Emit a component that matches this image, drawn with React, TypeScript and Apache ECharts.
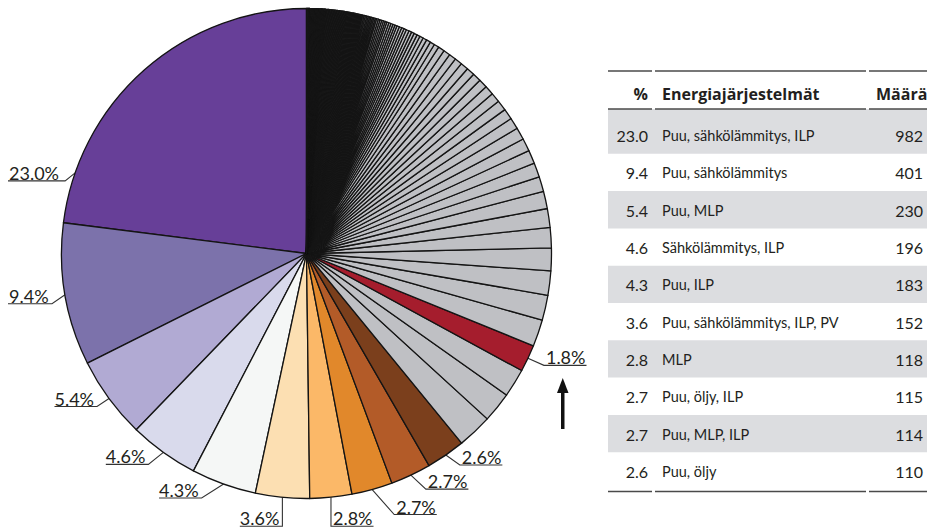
import React, { useEffect, useRef } from "react";
import * as echarts from "echarts";

// ---------- data ----------
const topNames = [
  "Puu, sähkölämmitys, ILP",
  "Puu, sähkölämmitys",
  "Puu, MLP",
  "Sähkölämmitys, ILP",
  "Puu, ILP",
  "Puu, sähkölämmitys, ILP, PV",
  "MLP",
  "Puu, öljy, ILP",
  "Puu, MLP, ILP",
  "Puu, öljy",
];
const topCounts = [982, 401, 230, 196, 183, 152, 118, 115, 114, 110];
const topPercents = ["23.0", "9.4", "5.4", "4.6", "4.3", "3.6", "2.8", "2.7", "2.7", "2.6"];

// other (grey) categories, sorted, before the highlighted one
const greyBeforeCounts = [98, 85, 80];
const highlightName = "Korostettu";
const highlightCount = 76;
const highlightPercent = "1.8";
// remaining grey categories (long tail)
const greyAfterCounts = [
  75, 71, 68, 64, 57, 53, 49, 42, 40,
  38, 36, 34, 32, 30, 29, 27, 26, 25, 24, 23, 22, 21, 20, 19, 18,
  14, 13, 12, 11, 10,
  9, 9, 8, 8, 8, 7, 7, 7, 7, 6, 6, 6, 6, 6, 5, 5, 5, 5, 5, 5,
  4, 4, 4, 4, 4, 4, 4, 4, 4, 4,
  3, 3, 3, 3, 3, 3, 3, 3, 3, 3, 3, 3, 3, 3, 3,
  2, 2, 2, 2, 2, 2, 2, 2, 2, 2, 2, 2, 2, 2, 2,
  2, 2, 2, 2, 2, 2, 2, 2, 2, 2, 2, 2, 2, 2, 2,
  1, 1, 1, 1, 1, 1, 1, 1, 1, 1, 1, 1, 1, 1, 1, 1, 1, 1, 1, 1, 1, 1, 1, 1, 1, 1,
  1, 1, 1, 1, 1, 1, 1, 1, 1, 1, 1, 1, 1, 1, 1, 1, 1, 1, 1, 1, 1, 1, 1, 1, 1, 1,
];

const tableHeader = ["%", "Energiajärjestelmät", "Määrä"];

// ---------- styles ----------
const topColors = [
  "#673f98", "#7c72ab", "#b1aad3", "#d9daec", "#f5f7f6",
  "#fcdfb2", "#fbb868", "#e1882b", "#b35b28", "#7b3f1c",
];
const greyColor = "#bfc0c4";
const highlightColor = "#a51d2d";
const FONT = "Lato, 'Open Sans', sans-serif";
const HEAD_FONT = "'Open Sans', Lato, sans-serif";
const CX = 306.5;
const CY = 253.5;
const R = 245;

// leader line shapes per labelled data index: elbow offset from arc point
const leaderStyles: Record<number, any> = {
  0: { rot: 29.4, dx: -10, dy: 8, edge: true },
  1: { dx: -13, dy: 9, edge: true },
  2: { dx: -12, dy: 8 },
  3: { dx: -15, dy: 12 },
  4: { dx: -22, dy: 14 },
  5: { dx: 0, dy: 29, left: true },
  6: { dx: 0, dy: 29 },
  7: { dx: 22, dy: 25 },
  8: { dx: 15, dy: 14 },
  9: { dx: 14, dy: 10 },
  13: { dx: 16, dy: 7 },
};

function buildData() {
  const data: any[] = [];
  topCounts.forEach((v, i) => {
    data.push({
      name: topNames[i],
      value: v,
      itemStyle: { color: topColors[i] },
      label: { show: true, formatter: topPercents[i] + "%" },
      labelLine: { show: true },
    });
  });
  greyBeforeCounts.forEach((v, i) => {
    data.push({ name: "Muu " + (i + 1), value: v, itemStyle: { color: greyColor } });
  });
  data.push({
    name: highlightName,
    value: highlightCount,
    itemStyle: { color: highlightColor },
    label: { show: true, formatter: highlightPercent + "%" },
    labelLine: { show: true },
  });
  greyAfterCounts.forEach((v, i) => {
    data.push({
      name: "Muu " + (greyBeforeCounts.length + i + 1),
      value: v,
      itemStyle: { color: greyColor },
    });
  });
  return data;
}

function buildTable() {
  const els: any[] = [];
  const x0 = 608;
  const x1 = 927;
  const headerLineY = 109;
  const rowTop0 = 116.5;
  const rowH = 37.3;
  const n = topNames.length;
  const bottomY = rowTop0 + rowH * n + 2;
  for (let i = 0; i < n; i += 2) {
    const top = i === 0 ? headerLineY : rowTop0 + rowH * i;
    const bottom = rowTop0 + rowH * (i + 1);
    els.push({
      type: "rect",
      silent: true,
      shape: { x: x0, y: top, width: x1 - x0, height: bottom - top },
      style: { fill: "#dcdde0" },
    });
  }
  const segs = [[x0, 652], [655, 866], [869, x1]];
  [71, headerLineY, bottomY].forEach((y) => {
    segs.forEach(([a, b]) => {
      els.push({
        type: "line",
        silent: true,
        shape: { x1: a, y1: y, x2: b, y2: y },
        style: { stroke: "#4a4a4a", lineWidth: 1.4 },
      });
    });
  });
  const text = (
    x: number,
    y: number,
    t: string,
    align: string,
    size: number,
    bold = false
  ) => ({
    type: "text",
    silent: true,
    x,
    y,
    style: {
      text: t,
      fontFamily: bold ? HEAD_FONT : FONT,
      fontSize: size,
      fontWeight: bold ? "bold" : "normal",
      fill: "#231f20",
      align,
      verticalAlign: "middle",
    },
  });
  const hy = 94;
  els.push(text(648, hy, tableHeader[0], "right", 16, true));
  els.push(text(662, hy, tableHeader[1], "left", 16, true));
  els.push(text(876, hy, tableHeader[2], "left", 16, true));
  for (let i = 0; i < n; i++) {
    const y = rowTop0 + rowH * i + rowH / 2 + 0.5;
    els.push(text(648, y, topPercents[i], "right", 16));
    els.push(text(662, y, topNames[i], "left", 14.5));
    els.push(text(923, y, String(topCounts[i]), "right", 16));
  }
  // arrow pointing at the highlighted slice label
  els.push({
    type: "rect",
    silent: true,
    shape: { x: 561, y: 390, width: 3.5, height: 39 },
    style: { fill: "#111" },
  });
  els.push({
    type: "polygon",
    silent: true,
    shape: { points: [[557, 393], [568.5, 393], [562.75, 378]] },
    style: { fill: "#111" },
  });
  return els;
}

export default function App() {
  const ref = useRef<HTMLDivElement>(null);
  useEffect(() => {
    const chart = echarts.init(ref.current!, null, { renderer: "svg" });
    const option: any = {
      animation: false,
      backgroundColor: "#ffffff",
      series: [
        {
          type: "pie",
          center: [CX, CY],
          radius: [0, R],
          startAngle: 90,
          clockwise: false,
          avoidLabelOverlap: false,
          silent: true,
          emphasis: { disabled: true },
          itemStyle: { borderColor: "#141414", borderWidth: 1.3 },
          label: {
            show: false,
            position: "outside",
            fontFamily: FONT,
            fontSize: 18,
            color: "#231f20",
          },
          labelLine: {
            show: false,
            length: 12,
            length2: 20,
            lineStyle: { color: "#333", width: 1.1 },
          },
          labelLayout: (p: any) => {
            const st = leaderStyles[p.dataIndex];
            if (!st || !p.labelLinePoints) return {};
            const q = p.labelLinePoints[0];
            const ax = q[0] - CX;
            const ay = q[1] - CY;
            const r0 = Math.hypot(ax, ay);
            const a = Math.atan2(ay, ax) - ((st.rot || 0) * Math.PI) / 180;
            const p0 = [CX + r0 * Math.cos(a), CY + r0 * Math.sin(a)];
            const p1 = [p0[0] + st.dx, p0[1] + st.dy];
            const w = p.labelRect.width;
            const toLeft = st.dx < 0 || st.left;
            let endX: number;
            let x: number;
            let align: string;
            if (st.edge) {
              endX = 8;
              x = 9;
              align = "left";
            } else if (toLeft) {
              endX = p1[0] - w - 3;
              x = p1[0] - 3;
              align = "right";
            } else {
              endX = p1[0] + w + 3;
              x = p1[0] + 2;
              align = "left";
            }
            return {
              x,
              y: p1[1] + 1,
              align,
              verticalAlign: "bottom",
              labelLinePoints: [p0, p1, [endX, p1[1]]],
            };
          },
          data: buildData(),
        },
      ],
      graphic: { elements: buildTable() },
    };
    chart.setOption(option);
    return () => chart.dispose();
  }, []);
  return (
    <div
      ref={ref}
      style={{ position: "absolute", left: 0, top: 0, width: 927, height: 528 }}
    />
  );
}
